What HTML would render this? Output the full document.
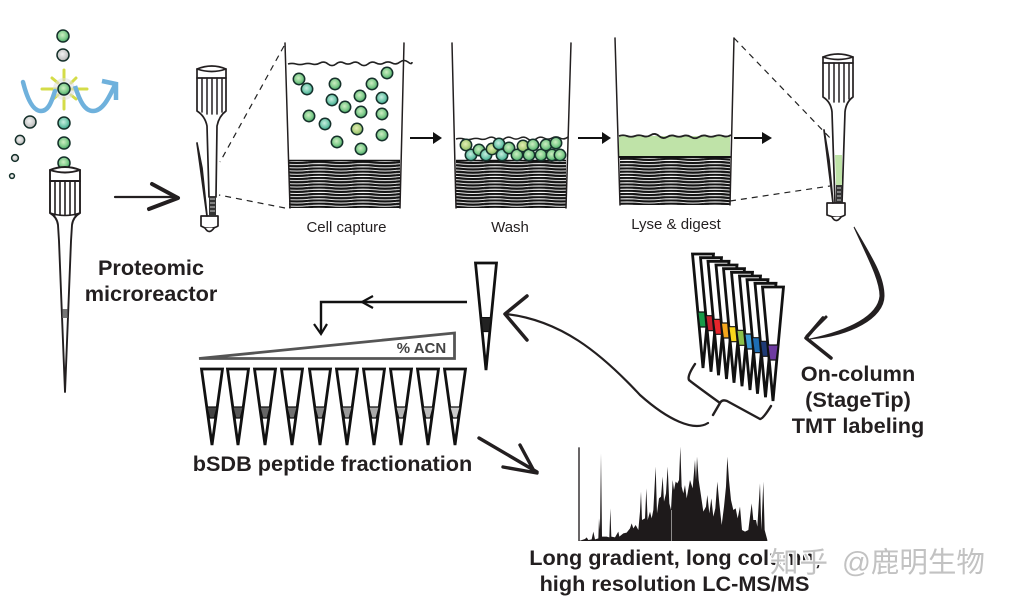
<!DOCTYPE html>
<html><head><meta charset="utf-8"><style>
html,body{margin:0;padding:0;background:#fff}
svg{display:block}
.b{font-family:"Liberation Sans",sans-serif;font-weight:bold;fill:#231f20;text-anchor:middle}
.l{font-family:"Liberation Sans",sans-serif;fill:#231f20;font-size:15px;text-anchor:middle}
.k{fill:none;stroke:#231f20;stroke-linecap:round;stroke-linejoin:round}
</style></head><body>
<svg width="1015" height="603" viewBox="0 0 1015 603" xmlns="http://www.w3.org/2000/svg">
<defs>
<radialGradient id="g" cx=".45" cy=".42" r=".6"><stop offset="0" stop-color="#cdeec2"/><stop offset=".6" stop-color="#80cc8c"/><stop offset="1" stop-color="#3c9c5e"/></radialGradient>
<radialGradient id="t" cx=".45" cy=".42" r=".6"><stop offset="0" stop-color="#c8eee0"/><stop offset=".6" stop-color="#72c8ac"/><stop offset="1" stop-color="#2f9a84"/></radialGradient>
<radialGradient id="y" cx=".45" cy=".42" r=".6"><stop offset="0" stop-color="#e4efb5"/><stop offset=".6" stop-color="#afd180"/><stop offset="1" stop-color="#76ac5e"/></radialGradient>
<radialGradient id="s" cx=".45" cy=".42" r=".6"><stop offset="0" stop-color="#f2f2f2"/><stop offset=".7" stop-color="#c8c8c8"/><stop offset="1" stop-color="#999"/></radialGradient>
<pattern id="m" width="44" height="3.2" patternUnits="userSpaceOnUse" y="1">
<path d="M0,1.5 Q11,.4 22,1.5 T44,1.5" fill="none" stroke="#141414" stroke-width="2.300"/>
</pattern>
<circle id="gb" r="5.700" fill="url(#g)" stroke="#15302a" stroke-width="1.500"/>
<circle id="tb" r="5.700" fill="url(#t)" stroke="#15302a" stroke-width="1.500"/>
<circle id="yb" r="5.700" fill="url(#y)" stroke="#15302a" stroke-width="1.500"/>
<g id="short"><polygon points="-10.500,0 10.500,0 0,76" fill="#fff" stroke="#111" stroke-width="2.800" stroke-linejoin="miter"/>
<polygon points="-5.200,38 5.200,38 2.200,49 -2.200,49" stroke="#111" stroke-width="1.300"/></g>
<g id="tall"><polygon points="-10.500,0 10.500,0 0,114" fill="#fff" stroke="#111" stroke-width="2.800"/>
<polygon points="-5.200,58 5.200,58 3.200,73 -3.200,73" stroke="#111" stroke-width="1.200"/></g>
</defs>

<!-- Left beads and wave -->
<g stroke="#d4dc48" stroke-width="3" stroke-linecap="round">
<path d="M42,89H56M72,89H87M64,70V80M64,98V109M52,78L58,83M76,78L71,83M71,95L76,99M52,100L58,95"/></g>
<circle cx="64" cy="89" r="11" fill="#ddd" opacity=".55"/>
<path d="M23,82C28,102 34,111 41,111C49,111 52,100 55,91" fill="none" stroke="#6fb1dc" stroke-width="4.500" stroke-linecap="round"/>
<path d="M75,86C80,102 85,111 93,111C102,111 108,100 115,85" fill="none" stroke="#6fb1dc" stroke-width="4.500"/>
<path d="M102,81L116,84L116,100" fill="none" stroke="#6fb1dc" stroke-width="4.500"/>
<g stroke="#15302a" stroke-width="1.500">
<circle cx="63" cy="36" r="6" fill="url(#g)"/><circle cx="63" cy="55" r="6" fill="url(#s)"/>
<circle cx="64" cy="89" r="6" fill="url(#g)"/><circle cx="64" cy="123" r="6" fill="url(#t)"/>
<circle cx="64" cy="143" r="6" fill="url(#g)"/><circle cx="64" cy="163" r="6" fill="url(#g)"/>
<circle cx="30" cy="122" r="6" fill="url(#s)"/><circle cx="20" cy="140" r="4.600" fill="url(#s)"/>
<circle cx="15" cy="158" r="3.400" fill="url(#s)"/><circle cx="12" cy="176" r="2.400" fill="#eee"/></g>

<!-- Big pipette -->
<g class="k" stroke-width="1.900">
<path d="M50,170Q65,164 80,170V213Q73,217 72,225L71,241L65,392L59,241L58,225Q57,217 50,213Z" fill="#fff"/>
<path d="M50,170Q65,175 80,170M50,181H80" />
<path d="M55,181V215M60,181V215M65,181V215M70,181V215M75,181V215" stroke-width="1.600"/>
<path d="M50,213Q65,218 80,213" stroke-width="1.600"/>
</g>
<rect x="62.500" y="309" width="5" height="9" fill="#777"/>

<!-- Small pipette left -->
<g class="k" stroke-width="1.700">
<path d="M197,69Q212,63 226,69V111Q219,116 217,126L216,197H209L207,126Q205,116 197,111Z" fill="#fff"/>
<path d="M197,69Q212,74 226,69M197,78H226"/>
<path d="M202,78V112M207,78V114M212,78V114M217,78V114M222,78V112" stroke-width="1.500"/>
<path d="M201,216H218V226Q214,229 205,228L201,226Z" fill="#fff"/>
<path d="M205,228Q209,235 214,228" fill="#fff"/>
<path d="M197,143L207,216L202,168Z" fill="#fff"/>
</g>
<rect x="209" y="197" width="7" height="19" fill="#333"/>
<path d="M210,199H215M210,203H215M210,207H215M210,211H215" stroke="#ccc" stroke-width="1"/>

<!-- Hand arrow -->
<path d="M115,197H178" class="k" stroke-width="2.200"/>
<path d="M152,184L178,198L149,209" class="k" stroke-width="4"/>

<!-- Dashes -->
<g fill="none" stroke="#222" stroke-width="1.200" stroke-dasharray="6 5">
<path d="M284,46L220,162"/><path d="M285,208L219,195"/>
<path d="M734,38L832,140"/><path d="M730,201L830,186"/></g>

<!-- Beaker 1 -->
<rect x="289" y="161" width="111" height="47" fill="url(#m)"/>
<path d="M289,160.500H400" stroke="#111" stroke-width="1.500"/>
<path d="M285,43L290,208M404,43L400,208" class="k" stroke-width="1.500"/>
<path d="M288,64q4,-1.200 8,0t8,0 8,0 8,-1 8,1 8,0 8,-1 8,0 8,1 8,0 8,-1 8,0 8,0 8,-1 8,0 4,0" fill="none" stroke="#222" stroke-width="1.600"/>
<use href="#gb" x="299" y="79"/><use href="#tb" x="307" y="89"/><use href="#gb" x="335" y="84"/><use href="#gb" x="372" y="84"/><use href="#gb" x="387" y="73"/>
<use href="#tb" x="332" y="100"/><use href="#gb" x="360" y="96"/><use href="#tb" x="382" y="98"/><use href="#gb" x="345" y="107"/><use href="#gb" x="361" y="112"/>
<use href="#gb" x="382" y="114"/><use href="#gb" x="309" y="116"/><use href="#tb" x="325" y="124"/><use href="#yb" x="357" y="129"/><use href="#gb" x="382" y="135"/>
<use href="#gb" x="337" y="142"/><use href="#gb" x="361" y="149"/>
<text class="l" x="346.500" y="232">Cell capture</text>

<!-- Beaker 2 -->
<rect x="456" y="161" width="110" height="47" fill="url(#m)"/>
<path d="M456,160.500H566" stroke="#111" stroke-width="1.500"/>
<path d="M452,43L456,208M571,43L566,208" class="k" stroke-width="1.500"/>
<path d="M456,139q4,-1.200 8,0t8,0 8,0 8,-1 8,1 8,0 8,-1 8,0 8,1 8,0 8,-1 8,0 8,0 8,-1" fill="none" stroke="#222" stroke-width="1.500"/>
<use href="#yb" x="466" y="145"/><use href="#tb" x="471" y="155"/><use href="#gb" x="479" y="150"/><use href="#tb" x="486" y="155"/><use href="#yb" x="492" y="149"/>
<use href="#tb" x="499" y="144"/><use href="#tb" x="502" y="155"/><use href="#gb" x="509" y="148"/><use href="#gb" x="517" y="155"/><use href="#yb" x="523" y="146"/>
<use href="#gb" x="529" y="155"/><use href="#gb" x="533" y="145"/><use href="#gb" x="541" y="155"/><use href="#gb" x="546" y="145"/><use href="#gb" x="552" y="155"/>
<use href="#gb" x="556" y="143"/><use href="#gb" x="560" y="155"/>
<text class="l" x="510" y="232">Wash</text>

<!-- Beaker 3 -->
<rect x="619" y="136" width="111" height="21" fill="#bfe3a8"/>
<rect x="620" y="157" width="110" height="48" fill="url(#m)"/>
<path d="M619,157H731" stroke="#111" stroke-width="2"/>
<path d="M615,38L620,205M734,38L730,205" class="k" stroke-width="1.500"/>
<path d="M619,136q4,-1.500 8,0t8,0 8,0 8,-1 8,1 8,1 8,-1 8,0 8,1 8,0 8,-1 8,0 8,0 8,-1" fill="none" stroke="#222" stroke-width="1.800"/>
<text class="l" x="676" y="229">Lyse &amp; digest</text>

<!-- Small arrows -->
<g stroke="#111" stroke-width="2"><path d="M410,138H436M578,138H605M734,138H766"/></g>
<polygon points="433,132 442,138 433,144" fill="#111"/>
<polygon points="602,132 611,138 602,144" fill="#111"/>
<polygon points="762,132 772,138 762,144" fill="#111"/>

<!-- Right pipette -->
<g class="k" stroke-width="1.700">
<path d="M823,57Q838,51 853,57V97Q846,102 845,112L842,203H835L832,112Q831,102 823,97Z" fill="#fff"/>
<path d="M823,57Q838,62 853,57M823,63H853"/>
<path d="M829,63V99M834,63V102M839,63V102M844,63V102M849,63V99" stroke-width="1.500"/>
</g>
<polygon points="835,155 842,155 842,185 836,185" fill="#bfe3a8"/>
<rect x="836" y="185" width="6" height="18" fill="#333"/>
<path d="M837,188H841M837,192H841M837,196H841M837,200H841" stroke="#ccc" stroke-width="1"/>
<g class="k" stroke-width="1.700">
<path d="M827,203H845V215Q841,218 833,217L827,215Z" fill="#fff"/>
<path d="M832,217Q836,224 841,217" fill="#fff"/>
<path d="M824,130L833,203L829,160Z" fill="#fff"/>
</g>

<!-- Curve to stack -->
<path d="M854,227C872,258 884,276 884,296C884,318 850,336 810,339C850,330 878,316 880,296C880,280 868,258 854,227Z" fill="#231f20" stroke="#231f20" stroke-width="1"/>
<path d="M826,317L807,336" class="k" stroke-width="3"/>
<path d="M823,318L806,338L831,358" class="k" stroke-width="3.500"/>

<!-- Stack -->
<g>
<use href="#tall" x="703" y="254" fill="#1a9b4a"/>
<use href="#tall" x="711" y="257.700" fill="#c4202e"/>
<use href="#tall" x="718.500" y="261.300" fill="#e8252c"/>
<use href="#tall" x="726.500" y="265" fill="#f5a71d"/>
<use href="#tall" x="734" y="268.700" fill="#f8d71c"/>
<use href="#tall" x="742" y="272.300" fill="#8cc04a"/>
<use href="#tall" x="750" y="276" fill="#3d9ad6"/>
<use href="#tall" x="757.500" y="279.700" fill="#1e6eb5"/>
<use href="#tall" x="765.500" y="283.300" fill="#1e3a75"/>
<use href="#tall" x="773" y="287" fill="#6d3aa0"/>
</g>

<!-- Brace -->
<path d="M695,364Q687,376 689,380Q691,382 720,403L713,415M720,403Q722,399 727,401L760,419Q763,419 771,406" class="k" stroke-width="2.400"/>

<!-- Long curve -->
<path d="M708,423C694,432 668,420 640,395C600,352 560,320 506,314" class="k" stroke-width="2.200"/>
<path d="M527,296L505,314L527,340" class="k" stroke-width="3.500"/>

<!-- Single tip -->
<use href="#tall" transform="translate(486 263) scale(1 .94)" fill="#222"/>

<!-- L arrow -->
<path d="M467,302H321V332" fill="none" stroke="#111" stroke-width="2.400"/>
<path d="M373,296L362,302L373,308M314,324L321,334L327,324" fill="none" stroke="#111" stroke-width="2.200"/>

<!-- Wedge -->
<polygon points="199,358.500 454.500,333 454.500,358.500" fill="#fff" stroke="#555" stroke-width="2.800"/>
<text class="b" x="421.500" y="353" font-size="15" style="fill:#444">% ACN</text>

<!-- Fractions -->
<use href="#short" x="212" y="369" fill="#444"/>
<use href="#short" x="238" y="369" fill="#585858"/>
<use href="#short" x="265" y="369" fill="#666"/>
<use href="#short" x="292" y="369" fill="#707070"/>
<use href="#short" x="320" y="369" fill="#888"/>
<use href="#short" x="347" y="369" fill="#999"/>
<use href="#short" x="374" y="369" fill="#aaa"/>
<use href="#short" x="401" y="369" fill="#b5b5b5"/>
<use href="#short" x="428" y="369" fill="#bbb"/>
<use href="#short" x="455" y="369" fill="#ccc"/>

<!-- Bottom arrow -->
<path d="M479,438L537,472M520,445L534,471M503,467L537,473" class="k" stroke-width="3.400"/>

<!-- Chromatogram -->
<g transform="translate(470 430) scale(.33333)">
<polygon fill="#1e1a1b" points="327,333 345,327 350,322 355,330 365,328 370,305 375,328 385,325 387,265 390,300 393,70 396,320 410,320 418,322 421,235 424,320 435,322 445,305 448,320 460,310 470,308 480,295 485,280 490,295 497,285 505,300 510,245 513,185 516,270 525,265 529,175 533,270 540,245 545,265 550,240 557,110 561,250 567,205 573,200 578,140 582,215 588,190 593,110 598,220 603,240 608,150 612,180 617,155 622,160 627,150 631,50 635,170 640,190 645,165 650,205 660,150 668,175 675,90 678,150 681,80 686,150 692,190 700,245 708,230 712,195 718,250 724,205 730,260 736,235 742,155 748,220 755,285 762,230 768,170 772,80 777,150 783,210 790,240 797,235 803,265 810,230 816,300 825,305 835,300 845,220 850,270 858,270 862,290 870,160 874,300 880,155 884,300 892,330 892,333"/>
<path d="M327,52V333" stroke="#1e1a1b" stroke-width="4" fill="none"/>
<path d="M605,240V333" stroke="#fff" stroke-width="1.500"/>
</g>

<!-- Bold labels -->
<text class="b" x="151" y="275" font-size="21.700">Proteomic</text>
<text class="b" x="151" y="301" font-size="21.700">microreactor</text>
<text class="b" x="858" y="381" font-size="21.700">On-column</text>
<text class="b" x="858" y="407" font-size="21.700">(StageTip)</text>
<text class="b" x="858" y="433" font-size="21.700">TMT labeling</text>
<text class="b" x="332.500" y="471" font-size="21.700">bSDB peptide fractionation</text>
<text class="b" x="675" y="565" font-size="21.700">Long gradient, long column,</text>
<text class="b" x="674.500" y="591" font-size="21.700">high resolution LC-MS/MS</text>

<!-- Watermark -->
<g font-family="'Liberation Sans','Noto Sans CJK SC',sans-serif" font-size="28.500" fill="#c2c2c2" stroke="#fff" stroke-width="2.500" style="paint-order:stroke">
<text x="770" y="572" letter-spacing="1">知乎</text>
<text x="842" y="572">@鹿明生物</text>
</g>
</svg>
</body></html>
